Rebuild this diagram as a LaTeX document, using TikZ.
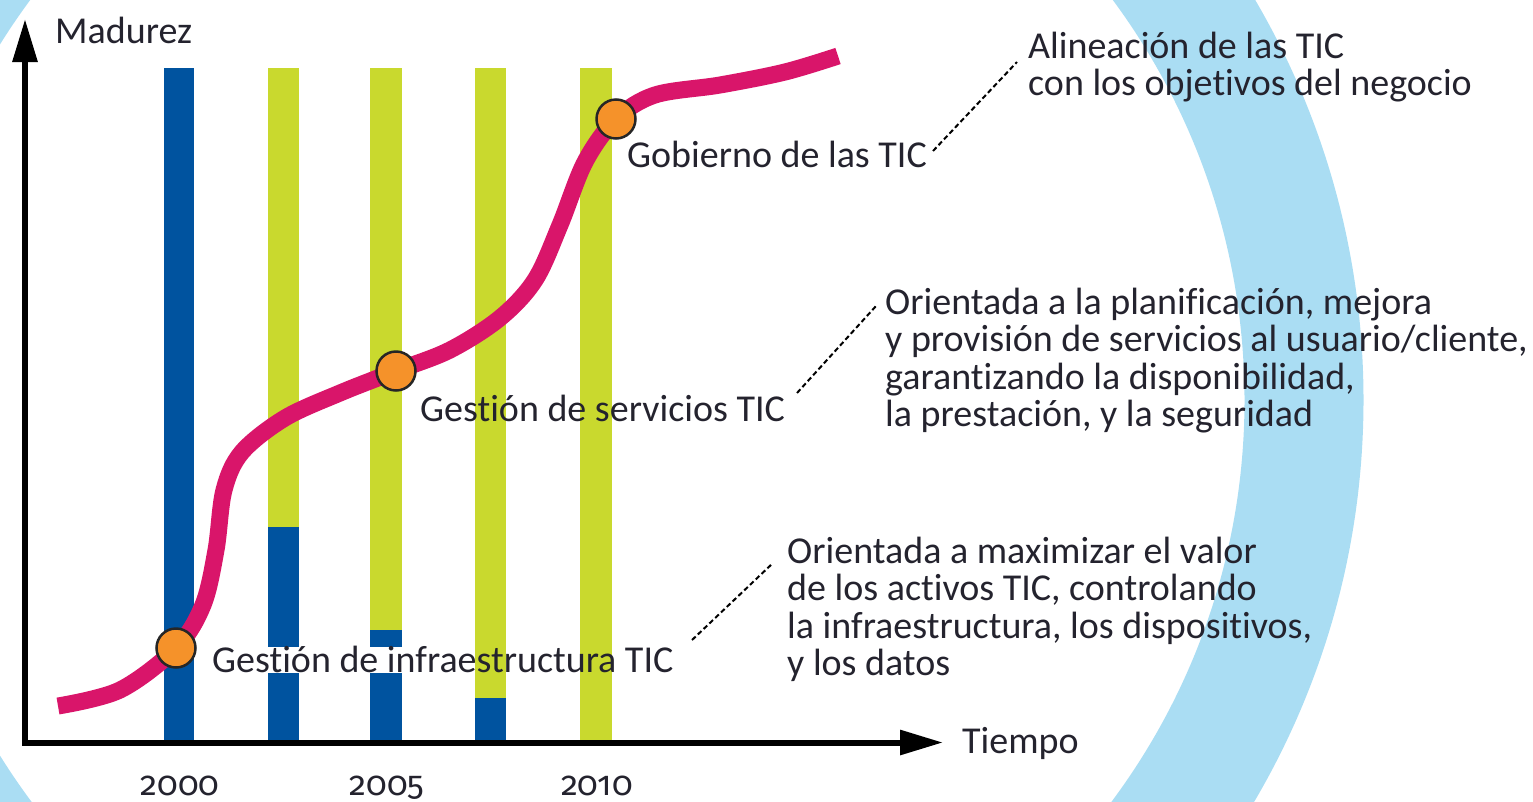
\documentclass[tikz,border=0pt]{standalone}
\usepackage{fontspec}
\setmainfont{Carlito}[Ligatures=NoCommon]
\newfontfamily\yearfont{Fira Sans}[Numbers=OldStyle]
\usetikzlibrary{arrows.meta}
\definecolor{ringblue}{HTML}{AADDF3}
\definecolor{barblue}{HTML}{00539F}
\definecolor{bargreen}{HTML}{C9D92E}
\definecolor{curvecol}{HTML}{D9156A}
\definecolor{dotcol}{HTML}{F5922A}
\definecolor{txt}{HTML}{24232E}
\begin{document}
\begin{tikzpicture}[x=1pt,y=-1pt,
  lbl/.style={text=txt,font=\fontsize{38}{37.5}\selectfont,inner sep=0pt,anchor=base west},
  yearlbl/.style={text=txt,font=\yearfont\fontsize{34}{37.5}\selectfont,inner sep=0pt,anchor=base},
  bluebar/.style={fill=barblue,draw=none},
  greenbar/.style={fill=bargreen,draw=none},
  axisline/.style={line width=6pt,black,line join=miter,{Triangle[length=43pt,width=24pt]}-{Triangle[length=43pt,width=24pt]}},
  growth/.style={line width=17pt,curvecol},
  milestone/.style={circle,fill=dotcol,draw=black!85,line width=2.5pt,minimum size=39pt,inner sep=0pt},
  leader/.style={black,line width=2pt,dash pattern=on 5pt off 3pt}]
\useasboundingbox (0,0) rectangle (1533,801);
% background ring
\begin{scope}
\clip (0,0) rectangle (1533,801);
\draw[ringblue,line width=119pt] (571.5,400) circle[radius=732.5];
\end{scope}
% bars
\fill[bluebar] (164,68) rectangle (194,743);
\fill[greenbar] (268,68) rectangle (299,527);
\fill[bluebar] (268,527) rectangle (299,647);
\fill[bluebar] (268,673) rectangle (299,743);
\fill[greenbar] (370,68) rectangle (402,630);
\fill[bluebar] (370,630) rectangle (402,647);
\fill[bluebar] (370,673) rectangle (402,743);
\fill[greenbar] (475,68) rectangle (506,698);
\fill[bluebar] (475,698) rectangle (506,743);
\fill[greenbar] (580,68) rectangle (612,743);
% axes
\coordinate (ytip) at (25,19);
\coordinate (origin) at (25,742.5);
\coordinate (xtip) at (943,742.5);
\draw[axisline] (ytip) -- (origin) -- (xtip);
% growth curve
\draw[growth] plot[smooth,tension=0.55] coordinates {(58,706) (120,690) (176,648) (203,605) (216,550) (224,490) (242,452) (285,418) (340,393) (396,371) (450,350) (500,318) (535,280) (560,225) (585,162) (616,119) (655,95) (720,85) (785,72) (838,56)};
% milestones
\node[milestone] (c1) at (176,648) {};
\node[milestone] (c2) at (396,371) {};
\node[milestone] (c3) at (616,119) {};
% axis labels
\node[lbl] (madurez) at (55,43) {Madurez};
\node[lbl] (tiempo) at (962,753) {Tiempo};
\node[yearlbl] (y2000) at (180,795) {2000};
\node[yearlbl] (y2005) at (387,795) {2005};
\node[yearlbl] (y2010) at (597,795) {2010};
% stage labels
\node[lbl] (gob) at (627,167) {Gobierno de las TIC};
\node[lbl] (serv) at (420,421) {Gestión de servicios TIC};
\node[lbl] (infra) at (212,672) {Gestión de infraestructura TIC};
% descriptions
\node[lbl] (alin) at (1028,58) {\begin{tabular}[t]{@{}l@{}}Alineación de las TIC\\con los objetivos del negocio\end{tabular}};
\node[lbl] (orserv) at (885,314) {\begin{tabular}[t]{@{}l@{}}Orientada a la planificación, mejora\\y provisión de servicios al usuario/cliente,\\garantizando la disponibilidad,\\la prestación, y la seguridad\end{tabular}};
\node[lbl] (orinfra) at (787,563) {\begin{tabular}[t]{@{}l@{}}Orientada a maximizar el valor\\de los activos TIC, controlando\\la infraestructura, los dispositivos,\\y los datos\end{tabular}};
% leaders
\coordinate (g1) at (933,151);
\coordinate (a1) at (1017,62);
\coordinate (s1) at (797,393);
\coordinate (o1) at (876,306);
\coordinate (i1) at (692,640);
\coordinate (o2) at (773,563);
\draw[leader] (g1) -- (a1);
\draw[leader] (s1) -- (o1);
\draw[leader] (i1) -- (o2);
\end{tikzpicture}
\end{document}
